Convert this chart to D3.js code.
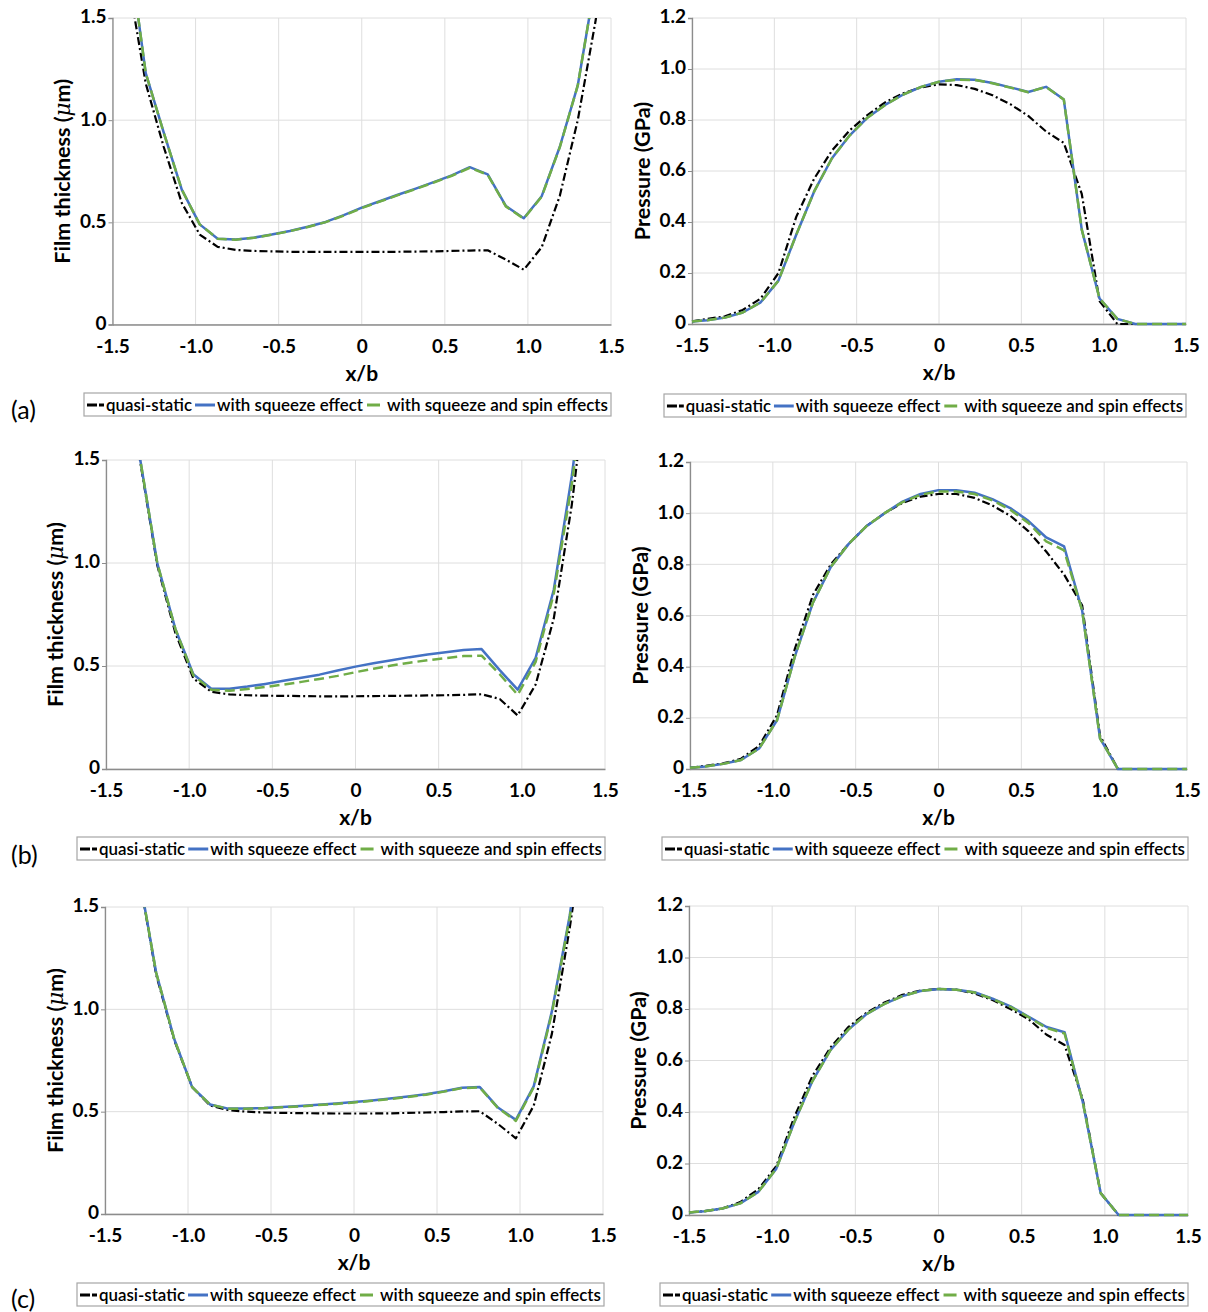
<!DOCTYPE html>
<html>
<head>
<meta charset="utf-8">
<script src="https://cdn.jsdelivr.net/npm/d3@7"></script>
<style>
  html, body { margin: 0; padding: 0; background: #fff; }
  svg { display: block; font-family: Lato, "Open Sans", "DejaVu Sans", sans-serif; }
</style>
</head>
<body>
<svg id="chart" width="1208" height="1312"></svg>
<script>
// ---------- data ----------
const xs = [-1.5, -1.408, -1.3, -1.192, -1.083, -0.975, -0.867, -0.758, -0.65, -0.542, -0.433, -0.325, -0.217, -0.108, 0,
            0.108, 0.217, 0.325, 0.433, 0.542, 0.65, 0.758, 0.867, 0.975, 1.083, 1.192, 1.3, 1.408, 1.5];

const xTickValues = [-1.5, -1.0, -0.5, 0, 0.5, 1.0, 1.5];
const xTickLabels = ["-1.5", "-1.0", "-0.5", "0", "0.5", "1.0", "1.5"];
const filmTickValues = [0, 0.5, 1.0, 1.5];
const filmTickLabels = ["0", "0.5", "1.0", "1.5"];
const pressTickValues = [0, 0.2, 0.4, 0.6, 0.8, 1.0, 1.2];
const pressTickLabels = ["0", "0.2", "0.4", "0.6", "0.8", "1.0", "1.2"];

const seriesNames = ["quasi-static", "with squeeze effect", "with squeeze and spin effects"];
const panelTags = ["(a)", "(b)", "(c)"];

// (a) film thickness (um)
const filmA_qs = [2.1, 1.7, 1.18, 0.87, 0.595, 0.44, 0.38, 0.365, 0.36, 0.358, 0.356, 0.355, 0.355, 0.355, 0.355,
                  0.355, 0.356, 0.357, 0.358, 0.36, 0.362, 0.363, 0.318, 0.268, 0.378, 0.63, 1.0, 1.49, 2.0];
const filmA_sq = [2.6, 1.88, 1.23, 0.94, 0.66, 0.49, 0.42, 0.416, 0.425, 0.44, 0.458, 0.478, 0.502, 0.535, 0.572,
                  0.603, 0.635, 0.665, 0.697, 0.73, 0.77, 0.735, 0.58, 0.52, 0.628, 0.87, 1.17, 1.69, 2.3];
const filmA_sp = [2.6, 1.88, 1.23, 0.94, 0.66, 0.49, 0.42, 0.415, 0.424, 0.439, 0.457, 0.477, 0.501, 0.533, 0.57,
                  0.601, 0.633, 0.663, 0.695, 0.728, 0.767, 0.733, 0.578, 0.518, 0.626, 0.868, 1.17, 1.69, 2.3];
// (a) pressure (GPa)
const pressA_qs = [0.01, 0.02, 0.03, 0.055, 0.10, 0.20, 0.42, 0.57, 0.68, 0.76, 0.82, 0.87, 0.905, 0.928, 0.94,
                   0.937, 0.922, 0.897, 0.862, 0.816, 0.755, 0.71, 0.51, 0.09, 0, 0, 0, 0, 0];
const pressA_sq = [0.01, 0.015, 0.025, 0.045, 0.085, 0.17, 0.35, 0.52, 0.65, 0.74, 0.81, 0.86, 0.90, 0.93, 0.95,
                   0.96, 0.958, 0.945, 0.928, 0.91, 0.93, 0.88, 0.37, 0.10, 0.02, 0, 0, 0, 0];
const pressA_sp = [0.01, 0.015, 0.025, 0.045, 0.085, 0.17, 0.35, 0.52, 0.65, 0.74, 0.81, 0.86, 0.90, 0.93, 0.95,
                   0.958, 0.957, 0.944, 0.927, 0.909, 0.93, 0.88, 0.37, 0.10, 0.02, 0, 0, 0, 0];

// (b) film thickness
const filmB_qs = [3.0, 2.2, 1.52, 0.99, 0.66, 0.44, 0.375, 0.362, 0.358, 0.356, 0.355, 0.354, 0.353, 0.353, 0.353,
                  0.354, 0.355, 0.356, 0.357, 0.358, 0.36, 0.363, 0.34, 0.26, 0.41, 0.73, 1.28, 2.0, 2.8];
const filmB_sq = [3.0, 2.2, 1.53, 1.0, 0.68, 0.46, 0.39, 0.39, 0.40, 0.413, 0.428, 0.443, 0.458, 0.478, 0.497,
                  0.513, 0.528, 0.543, 0.556, 0.567, 0.578, 0.582, 0.48, 0.385, 0.54, 0.87, 1.42, 2.1, 2.9];
const filmB_sp = [3.0, 2.2, 1.53, 1.0, 0.68, 0.455, 0.385, 0.38, 0.388, 0.398, 0.41, 0.423, 0.437, 0.452, 0.47,
                  0.487, 0.502, 0.516, 0.528, 0.538, 0.548, 0.55, 0.46, 0.36, 0.52, 0.85, 1.38, 2.05, 2.85];
// (b) pressure
const pressB_qs = [0.005, 0.012, 0.022, 0.04, 0.09, 0.21, 0.47, 0.68, 0.80, 0.88, 0.95, 1.0, 1.04, 1.065, 1.075,
                   1.075, 1.06, 1.03, 0.99, 0.93, 0.85, 0.76, 0.64, 0.13, 0, 0, 0, 0, 0];
const pressB_sq = [0.005, 0.01, 0.02, 0.035, 0.08, 0.19, 0.44, 0.65, 0.79, 0.88, 0.95, 1.0, 1.045, 1.075, 1.09,
                   1.09, 1.08, 1.055, 1.02, 0.97, 0.905, 0.87, 0.62, 0.12, 0, 0, 0, 0, 0];
const pressB_sp = [0.005, 0.01, 0.02, 0.035, 0.08, 0.19, 0.44, 0.65, 0.79, 0.88, 0.95, 1.0, 1.043, 1.072, 1.085,
                   1.085, 1.075, 1.05, 1.013, 0.962, 0.89, 0.855, 0.62, 0.12, 0, 0, 0, 0, 0];

// (c) film thickness
const filmC_qs = [3.0, 2.3, 1.68, 1.17, 0.85, 0.62, 0.53, 0.508, 0.50, 0.496, 0.494, 0.493, 0.492, 0.491, 0.491,
                  0.491, 0.492, 0.494, 0.496, 0.498, 0.501, 0.502, 0.44, 0.37, 0.53, 0.88, 1.40, 2.0, 2.7];
const filmC_sq = [3.0, 2.3, 1.68, 1.18, 0.855, 0.62, 0.535, 0.515, 0.515, 0.518, 0.523, 0.528, 0.534, 0.54, 0.547,
                  0.555, 0.564, 0.574, 0.585, 0.60, 0.617, 0.62, 0.52, 0.46, 0.625, 0.99, 1.46, 2.1, 2.8];
const filmC_sp = [3.0, 2.3, 1.68, 1.18, 0.855, 0.62, 0.535, 0.514, 0.514, 0.517, 0.521, 0.526, 0.532, 0.538, 0.545,
                  0.553, 0.562, 0.572, 0.583, 0.598, 0.615, 0.618, 0.518, 0.455, 0.62, 0.98, 1.45, 2.1, 2.8];
// (c) pressure
const pressC_qs = [0.01, 0.015, 0.025, 0.05, 0.10, 0.19, 0.38, 0.54, 0.65, 0.73, 0.785, 0.825, 0.855, 0.872, 0.878,
                   0.875, 0.86, 0.835, 0.80, 0.76, 0.70, 0.66, 0.45, 0.085, 0, 0, 0, 0, 0];
const pressC_sq = [0.01, 0.015, 0.025, 0.045, 0.09, 0.18, 0.36, 0.52, 0.64, 0.72, 0.78, 0.82, 0.85, 0.87, 0.878,
                   0.875, 0.865, 0.84, 0.81, 0.77, 0.73, 0.71, 0.44, 0.085, 0, 0, 0, 0, 0];
const pressC_sp = [0.01, 0.015, 0.025, 0.045, 0.09, 0.18, 0.36, 0.52, 0.64, 0.72, 0.78, 0.82, 0.85, 0.87, 0.878,
                   0.875, 0.864, 0.839, 0.808, 0.768, 0.726, 0.705, 0.44, 0.085, 0, 0, 0, 0, 0];

// ---------- layout ----------
const COLORS = ["#000000", "#4472C4", "#70AD47"];
const DASH = ["8,3,2,3", null, "10,5"];
const WIDTH = [2.2, 2.5, 2.5];

const panels = [
  {type: "film",  data: [filmA_qs, filmA_sq, filmA_sp],  x0: 112.5, x1: 611,  yb: 324.5, yt: 18,  lx: 84,  lw: 527, ly: 393, ylx: 62,  tag: 0},
  {type: "press", data: [pressA_qs, pressA_sq, pressA_sp], x0: 692,  x1: 1186, yb: 324,   yt: 18,  lx: 664, lw: 522, ly: 394, ylx: 642},
  {type: "film",  data: [filmB_qs, filmB_sq, filmB_sp],  x0: 106,   x1: 605,  yb: 769,   yt: 460, lx: 77,  lw: 528, ly: 837, ylx: 55,  tag: 1},
  {type: "press", data: [pressB_qs, pressB_sq, pressB_sp], x0: 690,  x1: 1187, yb: 769,   yt: 462, lx: 662, lw: 526, ly: 837, ylx: 640},
  {type: "film",  data: [filmC_qs, filmC_sq, filmC_sp],  x0: 105,   x1: 603,  yb: 1214,  yt: 907, lx: 77,  lw: 527, ly: 1283, ylx: 55, tag: 2},
  {type: "press", data: [pressC_qs, pressC_sq, pressC_sp], x0: 689,  x1: 1188, yb: 1215,  yt: 906, lx: 660, lw: 528, ly: 1283, ylx: 638}
];
const tagY = [419, 864, 1308];

const svg = d3.select("#chart");

panels.forEach((p, pi) => {
  const isFilm = p.type === "film";
  const yMax = isFilm ? 1.5 : 1.2;
  const yTicks = isFilm ? filmTickValues : pressTickValues;
  const yLabels = isFilm ? filmTickLabels : pressTickLabels;

  const x = d3.scaleLinear().domain([-1.5, 1.5]).range([p.x0, p.x1]);
  const y = d3.scaleLinear().domain([0, yMax]).range([p.yb, p.yt]);

  const g = svg.append("g");

  // grid
  g.append("g").selectAll("line").data(xTickValues).join("line")
    .attr("x1", d => x(d)).attr("x2", d => x(d)).attr("y1", p.yt).attr("y2", p.yb)
    .attr("stroke", "#dedede").attr("stroke-width", 1);
  g.append("g").selectAll("line").data(yTicks).join("line")
    .attr("x1", p.x0).attr("x2", p.x1).attr("y1", d => y(d)).attr("y2", d => y(d))
    .attr("stroke", "#dedede").attr("stroke-width", 1);

  // axes
  const xAxis = d3.axisBottom(x).tickValues(xTickValues).tickSize(0).tickPadding(0)
    .tickFormat((d, i) => xTickLabels[i]);
  const yAxis = d3.axisLeft(y).tickValues(yTicks).tickSize(4).tickPadding(2)
    .tickFormat((d, i) => yLabels[i]);

  const gx = g.append("g").attr("transform", `translate(0,${p.yb})`).call(xAxis);
  const gy = g.append("g").attr("transform", `translate(${p.x0},0)`).call(yAxis);
  [gx, gy].forEach(a => {
    a.select(".domain").attr("stroke", "#8c8c8c").attr("stroke-width", 1.3);
    a.selectAll(".tick line").attr("stroke", "#8c8c8c");
    a.selectAll("text").attr("fill", "#000").attr("font-size", 19).attr("font-weight", "bold")
      .attr("font-family", "Lato, sans-serif");
  });
  // x labels: baseline 28px below the axis
  gx.selectAll(".tick text").attr("y", 28).attr("dy", null);
  // y labels: nudge upward a little
  gy.selectAll(".tick text").attr("dy", "0.26em");

  // clip
  const cid = "clip" + pi;
  svg.append("clipPath").attr("id", cid).append("rect")
    .attr("x", p.x0 - 2).attr("y", p.yt).attr("width", p.x1 - p.x0 + 4).attr("height", p.yb - p.yt + 3);

  const line = d3.line().x((d, i) => x(xs[i])).y(d => y(d));
  const lg = g.append("g").attr("clip-path", `url(#${cid})`);
  p.data.forEach((arr, si) => {
    lg.append("path").datum(arr).attr("d", line)
      .attr("fill", "none").attr("stroke", COLORS[si]).attr("stroke-width", WIDTH[si])
      .attr("stroke-dasharray", DASH[si]).attr("stroke-linejoin", "round");
  });

  // x label
  g.append("text").attr("x", (p.x0 + p.x1) / 2).attr("y", p.yb + 56)
    .attr("text-anchor", "middle").attr("font-size", 21).attr("font-weight", "bold").text("x/b");

  // y label
  const yl = g.append("text")
    .attr("transform", `translate(${p.ylx},${(p.yt + p.yb) / 2}) rotate(-90)`)
    .attr("text-anchor", "middle").attr("dy", "0.35em")
    .attr("font-size", 21.5).attr("font-weight", "bold");
  if (isFilm) {
    yl.append("tspan").text("Film thickness (");
    yl.append("tspan").attr("font-style", "italic").attr("font-family", "DejaVu Serif, serif").attr("font-weight", "normal").text("μ");
    yl.append("tspan").text("m)");
  } else {
    yl.text("Pressure (GPa)");
  }

  // legend
  const s = p.lw / 527;
  const L = g.append("g").attr("transform", `translate(${p.lx},${p.ly})`);
  L.append("rect").attr("x", 0).attr("y", 0).attr("width", p.lw).attr("height", 23)
    .attr("fill", "#fff").attr("stroke", "#a6a6a6").attr("stroke-width", 1.2);
  const items = [
    {sx: 3, ex: 20, tx: 22, tw: 86},
    {sx: 111, ex: 131, tx: 133, tw: 146},
    {sx: 283, ex: 296, tx: 303, tw: 221}
  ];
  items.forEach((it, i) => {
    L.append("line").attr("x1", it.sx * s).attr("x2", it.ex * s).attr("y1", 12).attr("y2", 12)
      .attr("stroke", COLORS[i]).attr("stroke-width", 3)
      .attr("stroke-dasharray", i === 0 ? "10,2,5,2" : null);
    L.append("text").attr("x", it.tx * s).attr("y", 17.5)
      .attr("font-size", 17).attr("fill", "#000").attr("font-weight", 600)
      .attr("textLength", it.tw * s).attr("lengthAdjust", "spacingAndGlyphs")
      .text(seriesNames[i]);
  });

  if (p.tag !== undefined) {
    svg.append("text").attr("x", 11).attr("y", tagY[p.tag]).attr("font-size", 25)
      .attr("fill", "#000").text(panelTags[p.tag]);
  }
});
</script>
</body>
</html>
